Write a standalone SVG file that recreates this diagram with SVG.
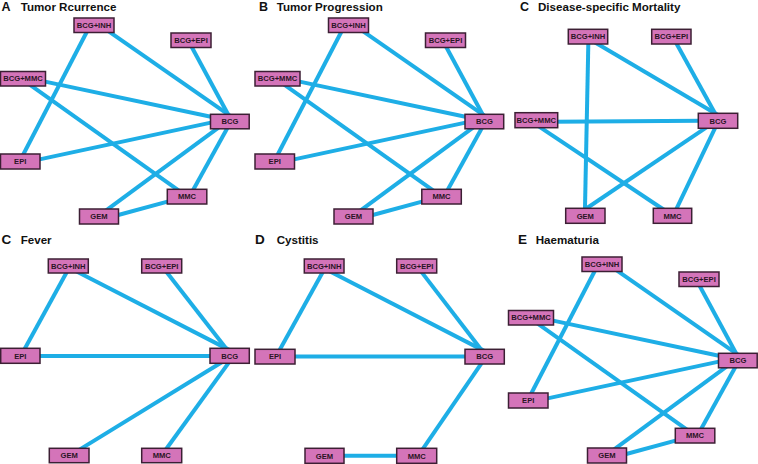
<svg xmlns="http://www.w3.org/2000/svg" width="758" height="464" viewBox="0 0 758 464">
<style>
.bg{fill:#ffffff}
.e{stroke:#1eaee6;stroke-width:4;fill:none;stroke-linecap:butt}
.n rect{fill:#d474b9;stroke:#3c1f34;stroke-width:1.5}
.n text{font-family:"Liberation Sans",Arial,sans-serif;font-weight:bold;font-size:7.6px;fill:#2b1426;text-anchor:middle}
.pl{font-family:"Liberation Sans",Arial,sans-serif;font-weight:bold;font-size:12.5px;fill:#111}
.pl2{font-family:"Liberation Sans",Arial,sans-serif;font-weight:bold;font-size:13.5px;fill:#111}
.pt{font-family:"Liberation Sans",Arial,sans-serif;font-weight:bold;font-size:11.6px;fill:#111}
</style>
<rect class="bg" x="0" y="0" width="758" height="464"/>

<!-- Titles -->
<g id="titles">
<text class="pl" x="1.5" y="11">A</text><text class="pt" x="20.7" y="11">Tumor Rcurrence</text>
<text class="pl" x="259" y="11">B</text><text class="pt" x="276.7" y="11">Tumor Progression</text>
<text class="pl" x="520" y="11">C</text><text class="pt" x="538" y="11">Disease-specific Mortality</text>
<text class="pl2" x="1.5" y="243.5">C</text><text class="pt" x="20.7" y="243.5">Fever</text>
<text class="pl2" x="255" y="243.5">D</text><text class="pt" x="276.7" y="243.5">Cystitis</text>
<text class="pl2" x="518" y="243.5">E</text><text class="pt" x="535.7" y="243.5">Haematuria</text>
</g>

<!-- Panel A -->
<g id="panelA">
<g id="A-edges">
<line class="e" x1="88.3" y1="29" x2="21.7" y2="157.5"/>
<line class="e" x1="106.9" y1="30.2" x2="231.3" y2="116.6"/>
<line class="e" x1="190.1" y1="44" x2="229.9" y2="117.8"/>
<line class="e" x1="41.6" y1="80.9" x2="214.4" y2="117.5"/>
<line class="e" x1="28.3" y1="83.7" x2="180.3" y2="191.6"/>
<line class="e" x1="36.1" y1="160.1" x2="214.4" y2="121.9"/>
<line class="e" x1="220.2" y1="126.4" x2="104.8" y2="211.4"/>
<line class="e" x1="228.9" y1="125.3" x2="191.6" y2="192.8"/>
<line class="e" x1="171.2" y1="200.6" x2="114.6" y2="216"/>
</g>
<g id="A-BCGINH" class="n"><rect x="74" y="18" width="40" height="14.5"/><text x="94" y="27.9">BCG+INH</text></g>
<g id="A-BCGEPI" class="n"><rect x="171" y="33" width="40" height="14.5"/><text x="191" y="42.9">BCG+EPI</text></g>
<g id="A-BCGMMC" class="n"><rect x="0.5" y="71.5" width="45" height="14.5"/><text x="23" y="81.4">BCG+MMC</text></g>
<g id="A-BCG" class="n"><rect x="210.5" y="114.3" width="38.7" height="14.5"/><text x="229.9" y="124.2">BCG</text></g>
<g id="A-EPI" class="n"><rect x="0.5" y="154" width="39.5" height="15"/><text x="20.2" y="164.2">EPI</text></g>
<g id="A-MMC" class="n"><rect x="167.3" y="189.3" width="39.5" height="14.7"/><text x="187" y="199.4">MMC</text></g>
<g id="A-GEM" class="n"><rect x="79.5" y="209" width="39" height="15"/><text x="99" y="219.2">GEM</text></g>
</g>

<!-- Panel B -->
<g id="panelB" transform="translate(254.5,0)">
<g id="B-edges">
<line class="e" x1="88.3" y1="29" x2="21.7" y2="157.5"/>
<line class="e" x1="106.9" y1="30.2" x2="231.3" y2="116.6"/>
<line class="e" x1="190.1" y1="44" x2="229.9" y2="117.8"/>
<line class="e" x1="41.6" y1="80.9" x2="214.4" y2="117.5"/>
<line class="e" x1="28.3" y1="83.7" x2="180.3" y2="191.6"/>
<line class="e" x1="36.1" y1="160.1" x2="214.4" y2="121.9"/>
<line class="e" x1="220.2" y1="126.4" x2="104.8" y2="211.4"/>
<line class="e" x1="228.9" y1="125.3" x2="191.6" y2="192.8"/>
<line class="e" x1="171.2" y1="200.6" x2="114.6" y2="216"/>
</g>
<g id="B-BCGINH" class="n"><rect x="74" y="18" width="40" height="14.5"/><text x="94" y="27.9">BCG+INH</text></g>
<g id="B-BCGEPI" class="n"><rect x="171" y="33" width="40" height="14.5"/><text x="191" y="42.9">BCG+EPI</text></g>
<g id="B-BCGMMC" class="n"><rect x="0.5" y="71.5" width="45" height="14.5"/><text x="23" y="81.4">BCG+MMC</text></g>
<g id="B-BCG" class="n"><rect x="210.5" y="114.3" width="38.7" height="14.5"/><text x="229.9" y="124.2">BCG</text></g>
<g id="B-EPI" class="n"><rect x="0.5" y="154" width="39.5" height="15"/><text x="20.2" y="164.2">EPI</text></g>
<g id="B-MMC" class="n"><rect x="167.3" y="189.3" width="39.5" height="14.7"/><text x="187" y="199.4">MMC</text></g>
<g id="B-GEM" class="n"><rect x="79.5" y="209" width="39" height="15"/><text x="99" y="219.2">GEM</text></g>
</g>

<!-- Panel C Disease-specific Mortality -->
<g id="panelC1">
<g id="C1-edges">
<line class="e" x1="588.4" y1="40" x2="584.9" y2="212"/>
<line class="e" x1="594.3" y1="42" x2="718.4" y2="115.3"/>
<line class="e" x1="674.8" y1="40.5" x2="716.9" y2="116.8"/>
<line class="e" x1="553" y1="121.7" x2="702" y2="120.7"/>
<line class="e" x1="538.4" y1="126.1" x2="665" y2="210.5"/>
<line class="e" x1="708.3" y1="126.1" x2="583.4" y2="210.5"/>
<line class="e" x1="716.7" y1="124.7" x2="675" y2="211.9"/>
</g>
<g id="C1-BCGINH" class="n"><rect x="568.3" y="29.3" width="39.4" height="14.7"/><text x="588" y="39.3">BCG+INH</text></g>
<g id="C1-BCGEPI" class="n"><rect x="651.7" y="29.3" width="39.3" height="14.7"/><text x="671.3" y="39.3">BCG+EPI</text></g>
<g id="C1-BCGMMC" class="n"><rect x="515" y="112.7" width="42.7" height="15"/><text x="536.3" y="122.9">BCG+MMC</text></g>
<g id="C1-BCG" class="n"><rect x="698.3" y="113.3" width="39.4" height="15"/><text x="718" y="123.5">BCG</text></g>
<g id="C1-GEM" class="n"><rect x="565.7" y="208.3" width="39.3" height="15"/><text x="585.3" y="218.5">GEM</text></g>
<g id="C1-MMC" class="n"><rect x="653.3" y="208.3" width="38.4" height="15"/><text x="672.5" y="218.5">MMC</text></g>
</g>

<!-- Panel C Fever -->
<g id="panelC2">
<g id="C2-edges">
<line class="e" x1="68.6" y1="268.8" x2="23.1" y2="351.8"/>
<line class="e" x1="74.7" y1="270.5" x2="229.6" y2="350.1"/>
<line class="e" x1="164.2" y1="269.1" x2="228.5" y2="351.5"/>
<line class="e" x1="36" y1="356" x2="214" y2="356"/>
<line class="e" x1="223.4" y1="361.2" x2="78.3" y2="450.4"/>
<line class="e" x1="230.6" y1="360.1" x2="164.4" y2="451.5"/>
</g>
<g id="C2-BCGINH" class="n"><rect x="48.3" y="259" width="40" height="14"/><text x="68.3" y="268.7">BCG+INH</text></g>
<g id="C2-BCGEPI" class="n"><rect x="141.7" y="259" width="40" height="14"/><text x="161.7" y="268.7">BCG+EPI</text></g>
<g id="C2-EPI" class="n"><rect x="0.7" y="348.3" width="39.3" height="15"/><text x="20.3" y="358.5">EPI</text></g>
<g id="C2-BCG" class="n"><rect x="210" y="348.3" width="39.3" height="15"/><text x="229.7" y="358.5">BCG</text></g>
<g id="C2-GEM" class="n"><rect x="49.3" y="448.3" width="39.7" height="14.4"/><text x="69.2" y="458.2">GEM</text></g>
<g id="C2-MMC" class="n"><rect x="141.7" y="448.3" width="40" height="14.4"/><text x="161.7" y="458.2">MMC</text></g>
</g>

<!-- Panel D Cystitis -->
<g id="panelD">
<g id="D-edges">
<line class="e" x1="324.6" y1="268.8" x2="278.1" y2="352.8"/>
<line class="e" x1="328.1" y1="270.5" x2="484.6" y2="351.1"/>
<line class="e" x1="419.3" y1="269.1" x2="483.4" y2="352.5"/>
<line class="e" x1="291" y1="356.5" x2="469" y2="356.5"/>
<line class="e" x1="483.3" y1="360.7" x2="421" y2="451.6"/>
<line class="e" x1="340" y1="455.7" x2="400" y2="455.7"/>
</g>
<g id="D-BCGINH" class="n"><rect x="304.3" y="259" width="39.7" height="14"/><text x="324.2" y="268.7">BCG+INH</text></g>
<g id="D-BCGEPI" class="n"><rect x="396.7" y="259" width="40" height="14"/><text x="416.7" y="268.7">BCG+EPI</text></g>
<g id="D-EPI" class="n"><rect x="255" y="349.3" width="40" height="14.7"/><text x="275" y="359.3">EPI</text></g>
<g id="D-BCG" class="n"><rect x="465" y="349.3" width="39.3" height="14.7"/><text x="484.7" y="359.3">BCG</text></g>
<g id="D-GEM" class="n"><rect x="305" y="448.3" width="39" height="15"/><text x="324.5" y="458.5">GEM</text></g>
<g id="D-MMC" class="n"><rect x="396.7" y="448.3" width="40" height="15"/><text x="416.7" y="458.5">MMC</text></g>
</g>

<!-- Panel E Haematuria -->
<g id="panelE" transform="translate(508,239)">
<g id="E-edges">
<line class="e" x1="88.3" y1="29" x2="21.7" y2="157.5"/>
<line class="e" x1="106.9" y1="30.2" x2="231.3" y2="116.6"/>
<line class="e" x1="190.1" y1="44" x2="229.9" y2="117.8"/>
<line class="e" x1="41.6" y1="80.9" x2="214.4" y2="117.5"/>
<line class="e" x1="28.3" y1="83.7" x2="180.3" y2="191.6"/>
<line class="e" x1="36.1" y1="160.1" x2="214.4" y2="121.9"/>
<line class="e" x1="220.2" y1="126.4" x2="104.8" y2="211.4"/>
<line class="e" x1="228.9" y1="125.3" x2="191.6" y2="192.8"/>
<line class="e" x1="171.2" y1="200.6" x2="114.6" y2="216"/>
</g>
<g id="E-BCGINH" class="n"><rect x="74" y="18" width="40" height="14.5"/><text x="94" y="27.9">BCG+INH</text></g>
<g id="E-BCGEPI" class="n"><rect x="171" y="33" width="40" height="14.5"/><text x="191" y="42.9">BCG+EPI</text></g>
<g id="E-BCGMMC" class="n"><rect x="0.5" y="71.5" width="45" height="14.5"/><text x="23" y="81.4">BCG+MMC</text></g>
<g id="E-BCG" class="n"><rect x="210.5" y="114.3" width="38.7" height="14.5"/><text x="229.9" y="124.2">BCG</text></g>
<g id="E-EPI" class="n"><rect x="0.5" y="154" width="39.5" height="15"/><text x="20.2" y="164.2">EPI</text></g>
<g id="E-MMC" class="n"><rect x="167.3" y="189.3" width="39.5" height="14.7"/><text x="187" y="199.4">MMC</text></g>
<g id="E-GEM" class="n"><rect x="79.5" y="209" width="39" height="15"/><text x="99" y="219.2">GEM</text></g>
</g>
</svg>
